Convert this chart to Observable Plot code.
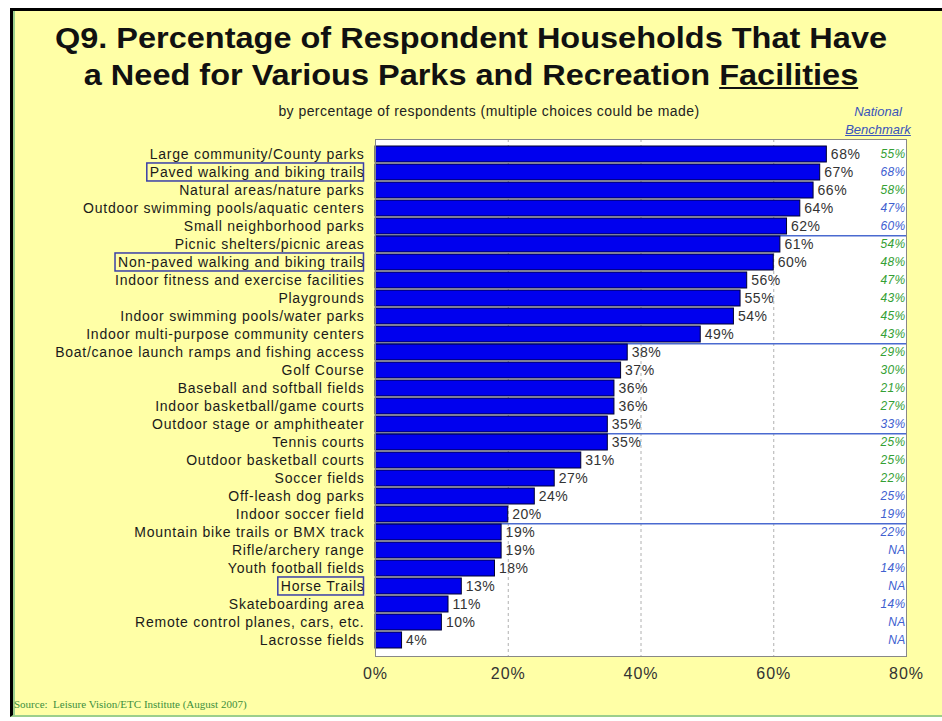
<!DOCTYPE html>
<html>
<head>
<meta charset="utf-8">
<script src="https://cdn.jsdelivr.net/npm/d3@7"></script>
<script src="https://cdn.jsdelivr.net/npm/@observablehq/plot@0.6"></script>
<style>
  html, body { margin: 0; padding: 0; background: #fff; }
  #page { position: relative; width: 942px; height: 721px; overflow: hidden; font-family: "Liberation Sans", Arial, sans-serif; }
  #panel { position: absolute; left: 10px; top: 8px; width: 932px; height: 709px; background: #ffffa6;
           border-left: 3px solid #000; border-top: 3px solid #000; border-bottom: 2px solid #9ccf8c; box-sizing: border-box;
           box-shadow: inset 2px 0 0 #9ccf8c; }
  .title { position: absolute; left: 0; width: 942px; text-align: center; font-weight: bold; font-size: 29px; color: #111; line-height: 37px;
           transform: scaleX(1.12); transform-origin: 471px 50%; }
  #subtitle { position: absolute; left: 230px; width: 518px; top: 103px; text-align: center; font-size: 14px; letter-spacing: 0.45px; color: #222; }
  #bench { position: absolute; left: 836px; width: 84px; top: 103px; text-align: center; font-size: 13px; font-style: italic; color: #3a55bb; line-height: 18px; }
  #source { position: absolute; left: 14px; top: 698px; font-family: "Liberation Serif", "Times New Roman", serif; font-size: 11px; color: #3d8f3d; }
  #chart { position: absolute; left: 0; top: 100px; }
</style>
</head>
<body>
<div id="page">
  <div id="panel"></div>
  <div class="title" style="top:20px">Q9. Percentage of Respondent Households That Have</div>
  <div class="title" style="top:57px">a Need for Various Parks and Recreation <u>Facilities</u></div>
  <div id="subtitle">by percentage of respondents (multiple choices could be made)</div>
  <div id="bench">National<br><u>Benchmark</u></div>
  <div id="chart"></div>
  <div id="source">Source:&nbsp; Leisure Vision/ETC Institute (August 2007)</div>
</div>
<script>
const categories = [
  "Large community/County parks",
  "Paved walking and biking trails",
  "Natural areas/nature parks",
  "Outdoor swimming pools/aquatic centers",
  "Small neighborhood parks",
  "Picnic shelters/picnic areas",
  "Non-paved walking and biking trails",
  "Indoor fitness and exercise facilities",
  "Playgrounds",
  "Indoor swimming pools/water parks",
  "Indoor multi-purpose community centers",
  "Boat/canoe launch ramps and fishing access",
  "Golf Course",
  "Baseball and softball fields",
  "Indoor basketball/game courts",
  "Outdoor stage or amphitheater",
  "Tennis courts",
  "Outdoor basketball courts",
  "Soccer fields",
  "Off-leash dog parks",
  "Indoor soccer field",
  "Mountain bike trails or BMX track",
  "Rifle/archery range",
  "Youth football fields",
  "Horse Trails",
  "Skateboarding area",
  "Remote control planes, cars, etc.",
  "Lacrosse fields"
];
const values = [68, 67, 66, 64, 62, 61, 60, 56, 55, 54, 49, 38, 37, 36, 36, 35, 35, 31, 27, 24, 20, 19, 19, 18, 13, 11, 10, 4];
const benchmarks = ["55%", "68%", "58%", "47%", "60%", "54%", "48%", "47%", "43%", "45%", "43%", "29%", "30%", "21%", "27%", "33%", "25%", "25%", "22%", "25%", "19%", "22%", "NA", "14%", "NA", "14%", "NA", "NA"];
// 1 = benchmark shown in the blue group, 0 = green group
const benchmarkGroup = [0, 1, 0, 1, 1, 0, 0, 0, 0, 0, 0, 0, 0, 0, 0, 1, 0, 0, 0, 1, 1, 1, 1, 1, 1, 1, 1, 1];
const xTicks = [0, 20, 40, 60, 80];
const gridTicks = [20, 40, 60];
const groupBreaks = ["Small neighborhood parks", "Indoor multi-purpose community centers", "Outdoor stage or amphitheater", "Indoor soccer field"];
const boxedLabels = ["Paved walking and biking trails", "Non-paved walking and biking trails", "Horse Trails"];

const data = categories.map((c, i) => ({cat: c, value: values[i], bench: benchmarks[i], grp: benchmarkGroup[i]}));

const W = 942, H = 600, mT = 39, mB = 44, mL = 375, mR = 36;
const pIn = 0.1, pOut = 0.05;
const step = (H - mT - mB) / (categories.length - pIn + 2 * pOut);

const chart = Plot.plot({
  width: W, height: H,
  marginLeft: mL, marginRight: mR, marginTop: mT, marginBottom: mB,
  style: {background: "transparent", fontFamily: "'Liberation Sans', Arial, sans-serif", fontSize: "13px", color: "#1a1a1a"},
  x: {domain: [0, 80]},
  y: {domain: categories, paddingInner: pIn, paddingOuter: pOut},
  marks: [
    Plot.frame({fill: "#fff", stroke: "none"}),
    Plot.ruleX(gridTicks, {stroke: "#b0b0b0", strokeDasharray: "3,3"}),
    Plot.ruleY(groupBreaks, {y: d => d, dy: step / 2, stroke: "#4a6ad0", strokeWidth: 1.5}),
    Plot.barX(data, {x: "value", y: "cat", fill: "#0000ee", stroke: "#000030", strokeWidth: 1}),
    Plot.text(data, {x: "value", y: "cat", text: d => d.value + "%", textAnchor: "start", dx: 4, fill: "#333", fontSize: 14, className: "vlabel"}),
    Plot.text(data, {y: "cat", text: "bench", frameAnchor: "right", textAnchor: "end", dx: -1, fontSize: 12, fontStyle: "italic",
      fill: d => d.grp ? "#4060d0" : "#34a034", className: "blabel"}),
    Plot.frame({stroke: "#888"}),
    Plot.axisX({ticks: xTicks, tickSize: 0, tickPadding: 11, fontSize: 16, label: null, tickFormat: d => d + "%", fill: "#333", className: "xlabel"}),
    Plot.axisY({tickSize: 0, tickPadding: 11, label: null, fontSize: 14, className: "ylabel"})
  ]
});
document.getElementById("chart").appendChild(chart);

const svg = d3.select(chart);
svg.selectAll(".ylabel text").style("letter-spacing", "0.75px");
svg.selectAll(".vlabel text").style("letter-spacing", "0.5px");
svg.selectAll(".blabel text").style("letter-spacing", "0.3px");
svg.selectAll(".xlabel text").style("letter-spacing", "1px");

// boxes around highlighted y-axis labels, derived from the rendered text
svg.selectAll("text").each(function () {
  if (!boxedLabels.includes(this.textContent)) return;
  const bb = this.getBBox();
  const r = d3.select(this.parentNode).append("rect")
    .attr("x", bb.x - 3).attr("y", bb.y - 1)
    .attr("width", bb.width + 2).attr("height", bb.height + 2)
    .attr("fill", "none").attr("stroke", "#3a3fa8").attr("stroke-width", 1.5);
  const tf = this.getAttribute("transform");
  if (tf) r.attr("transform", tf);
});
</script>
</body>
</html>
